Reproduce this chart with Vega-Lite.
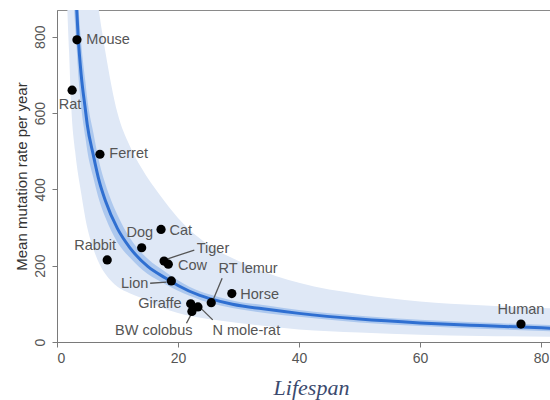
{
  "$schema": "https://vega.github.io/schema/vega-lite/v6.json",
  "autosize": "none",
  "width": 493,
  "height": 332,
  "padding": {"left": 57, "top": 10, "right": 0, "bottom": 58},
  "config": {
    "view": {"stroke": "#8a8a8a", "strokeWidth": 1},
    "font": "Liberation Sans"
  },
  "datasets": {
    "points": [
      {"animal": "Mouse", "lifespan": 3.3, "rate": 792},
      {"animal": "Rat", "lifespan": 2.5, "rate": 660},
      {"animal": "Ferret", "lifespan": 7.1, "rate": 492},
      {"animal": "Rabbit", "lifespan": 8.3, "rate": 215},
      {"animal": "Dog", "lifespan": 14.0, "rate": 247},
      {"animal": "Cat", "lifespan": 17.2, "rate": 295},
      {"animal": "Tiger", "lifespan": 17.7, "rate": 212},
      {"animal": "Cow", "lifespan": 18.4, "rate": 204},
      {"animal": "Lion", "lifespan": 18.9, "rate": 160},
      {"animal": "Giraffe", "lifespan": 22.1, "rate": 100},
      {"animal": "BW colobus", "lifespan": 22.3, "rate": 80},
      {"animal": "N mole-rat", "lifespan": 23.3, "rate": 92},
      {"animal": "RT lemur", "lifespan": 25.5, "rate": 103},
      {"animal": "Horse", "lifespan": 28.9, "rate": 127},
      {"animal": "Human", "lifespan": 76.7, "rate": 47}
    ],
    "labels_left": [
      {"animal": "Mouse", "lx": 4.85, "ly": 792},
      {"animal": "Ferret", "lx": 8.65, "ly": 493},
      {"animal": "Cat", "lx": 18.6, "ly": 292},
      {"animal": "Tiger", "lx": 23.1, "ly": 244},
      {"animal": "Cow", "lx": 20.0, "ly": 199},
      {"animal": "Horse", "lx": 30.3, "ly": 124}
    ],
    "labels_right": [
      {"animal": "Lion", "lx": 15.1, "ly": 152},
      {"animal": "Giraffe", "lx": 20.6, "ly": 100}
    ],
    "labels_center": [
      {"animal": "Rat", "lx": 2.15, "ly": 621},
      {"animal": "Rabbit", "lx": 6.3, "ly": 252},
      {"animal": "Dog", "lx": 13.7, "ly": 286},
      {"animal": "RT lemur", "lx": 31.6, "ly": 190},
      {"animal": "BW colobus", "lx": 16.0, "ly": 30},
      {"animal": "N mole-rat", "lx": 31.3, "ly": 30},
      {"animal": "Human", "lx": 76.7, "ly": 84}
    ],
    "leaders": [
      {"animal": "Tiger", "x1": 18.3, "y1": 218, "x2": 22.7, "y2": 241},
      {"animal": "Lion", "x1": 15.4, "y1": 154, "x2": 18.1, "y2": 157},
      {"animal": "RT lemur", "x1": 27.3, "y1": 167, "x2": 25.75, "y2": 108},
      {"animal": "BW colobus", "x1": 21.4, "y1": 49, "x2": 22.4, "y2": 79},
      {"animal": "N mole-rat", "x1": 23.55, "y1": 92, "x2": 25.75, "y2": 58}
    ],
    "outer": [
      {"x": 1.5, "lo": 1000, "hi": 3000},
      {"x": 1.69, "lo": 883, "hi": 2900},
      {"x": 2, "lo": 760, "hi": 2700},
      {"x": 2.35, "lo": 620, "hi": 2450},
      {"x": 3, "lo": 500, "hi": 2000},
      {"x": 4, "lo": 390, "hi": 1500},
      {"x": 5, "lo": 300, "hi": 1200},
      {"x": 6, "lo": 245, "hi": 990},
      {"x": 7, "lo": 205, "hi": 860},
      {"x": 8, "lo": 178, "hi": 760},
      {"x": 10, "lo": 145, "hi": 600},
      {"x": 12, "lo": 128, "hi": 515},
      {"x": 14, "lo": 115, "hi": 455},
      {"x": 17, "lo": 92, "hi": 385},
      {"x": 20, "lo": 76, "hi": 325},
      {"x": 25, "lo": 60, "hi": 255},
      {"x": 30, "lo": 50, "hi": 212},
      {"x": 40, "lo": 33, "hi": 155},
      {"x": 50, "lo": 25, "hi": 125},
      {"x": 60, "lo": 19, "hi": 106},
      {"x": 70, "lo": 16, "hi": 96},
      {"x": 82, "lo": 14, "hi": 88}
    ],
    "fit": [
      {"x": 2.8, "fit": 1000, "ilo": 880, "ihi": 1120},
      {"x": 3.0, "fit": 940, "ilo": 827, "ihi": 1053},
      {"x": 3.22, "fit": 883, "ilo": 777, "ihi": 989},
      {"x": 3.5, "fit": 800, "ilo": 704, "ihi": 896},
      {"x": 4, "fit": 700, "ilo": 616, "ihi": 784},
      {"x": 4.7, "fit": 608, "ilo": 535, "ihi": 681},
      {"x": 5, "fit": 570, "ilo": 502, "ihi": 638},
      {"x": 6, "fit": 490, "ilo": 431, "ihi": 549},
      {"x": 7, "fit": 420, "ilo": 370, "ihi": 470},
      {"x": 8, "fit": 370, "ilo": 326, "ihi": 414},
      {"x": 10, "fit": 297, "ilo": 261, "ihi": 333},
      {"x": 12, "fit": 248, "ilo": 222, "ihi": 274},
      {"x": 15, "fit": 198, "ilo": 178, "ihi": 218},
      {"x": 18, "fit": 167, "ilo": 151, "ihi": 183},
      {"x": 20, "fit": 148, "ilo": 134, "ihi": 162},
      {"x": 23.6, "fit": 122, "ilo": 111, "ihi": 133},
      {"x": 25, "fit": 115, "ilo": 104, "ihi": 126},
      {"x": 29, "fit": 99, "ilo": 89, "ihi": 109},
      {"x": 35, "fit": 85, "ilo": 75, "ihi": 95},
      {"x": 40, "fit": 75, "ilo": 66, "ihi": 84},
      {"x": 50, "fit": 60, "ilo": 51, "ihi": 69},
      {"x": 60, "fit": 50, "ilo": 42, "ihi": 58},
      {"x": 70, "fit": 43, "ilo": 35, "ihi": 51},
      {"x": 82, "fit": 36, "ilo": 28, "ihi": 44}
    ]
  },
  "layer": [
    {
      "data": {"name": "outer"},
      "mark": {"type": "area", "color": "#dfe8f6", "clip": true, "interpolate": "monotone"},
      "encoding": {
        "x": {"field": "x", "type": "quantitative",
              "scale": {"domain": [0, 81.5], "nice": false, "zero": false},
              "axis": {
                "values": [0, 20, 40, 60, 80], "grid": false,
                "domainColor": "#7a7a7a", "tickColor": "#7a7a7a", "tickSize": 5,
                "labelFont": "Liberation Sans", "labelFontSize": 14, "labelColor": "#555555", "labelPadding": 4,
                "title": "Lifespan", "titleFont": "Liberation Serif", "titleFontStyle": "italic",
                "titleFontWeight": "normal", "titleFontSize": 22, "titleColor": "#3b4a6e",
                "titleX": 254, "titleY": 45, "titleBaseline": "middle", "titleAlign": "center"
              }},
        "y": {"field": "lo", "type": "quantitative",
              "scale": {"domain": [0, 870], "nice": false, "zero": false},
              "axis": {
                "values": [0, 200, 400, 600, 800], "grid": false,
                "domainColor": "#7a7a7a", "tickColor": "#7a7a7a", "tickSize": 5,
                "labelFont": "Liberation Sans", "labelFontSize": 14, "labelColor": "#555555",
                "labelAngle": -90, "labelAlign": "center", "labelBaseline": "bottom", "labelPadding": 5,
                "title": "Mean mutation rate per year", "titleFont": "Liberation Sans",
                "titleFontWeight": "normal", "titleFontSize": 15, "titleColor": "#333333",
                "titleAngle": -90, "titleX": -36, "titleY": 166, "titleBaseline": "middle", "titleAlign": "center"
              }},
        "y2": {"field": "hi"}
      }
    },
    {
      "data": {"name": "fit"},
      "mark": {"type": "area", "color": "#adc8ee", "clip": true, "interpolate": "monotone"},
      "encoding": {
        "x": {"field": "x", "type": "quantitative"},
        "y": {"field": "ilo", "type": "quantitative"},
        "y2": {"field": "ihi"}
      }
    },
    {
      "data": {"name": "fit"},
      "mark": {"type": "line", "color": "#2f6fd1", "strokeWidth": 3, "clip": true, "interpolate": "monotone"},
      "encoding": {
        "x": {"field": "x", "type": "quantitative"},
        "y": {"field": "fit", "type": "quantitative"}
      }
    },
    {
      "data": {"name": "leaders"},
      "mark": {"type": "rule", "color": "#555555", "strokeWidth": 1.3},
      "encoding": {
        "x": {"field": "x1", "type": "quantitative"},
        "y": {"field": "y1", "type": "quantitative"},
        "x2": {"field": "x2"},
        "y2": {"field": "y2"}
      }
    },
    {
      "data": {"name": "points"},
      "mark": {"type": "circle", "color": "#000000", "opacity": 1, "size": 85},
      "encoding": {
        "x": {"field": "lifespan", "type": "quantitative"},
        "y": {"field": "rate", "type": "quantitative"}
      }
    },
    {
      "data": {"name": "labels_left"},
      "mark": {"type": "text", "align": "left", "baseline": "middle", "fontSize": 14.5, "color": "#555555", "font": "Liberation Sans"},
      "encoding": {
        "x": {"field": "lx", "type": "quantitative"},
        "y": {"field": "ly", "type": "quantitative"},
        "text": {"field": "animal"}
      }
    },
    {
      "data": {"name": "labels_right"},
      "mark": {"type": "text", "align": "right", "baseline": "middle", "fontSize": 14.5, "color": "#555555", "font": "Liberation Sans"},
      "encoding": {
        "x": {"field": "lx", "type": "quantitative"},
        "y": {"field": "ly", "type": "quantitative"},
        "text": {"field": "animal"}
      }
    },
    {
      "data": {"name": "labels_center"},
      "mark": {"type": "text", "align": "center", "baseline": "middle", "fontSize": 14.5, "color": "#555555", "font": "Liberation Sans"},
      "encoding": {
        "x": {"field": "lx", "type": "quantitative"},
        "y": {"field": "ly", "type": "quantitative"},
        "text": {"field": "animal"}
      }
    }
  ]
}
